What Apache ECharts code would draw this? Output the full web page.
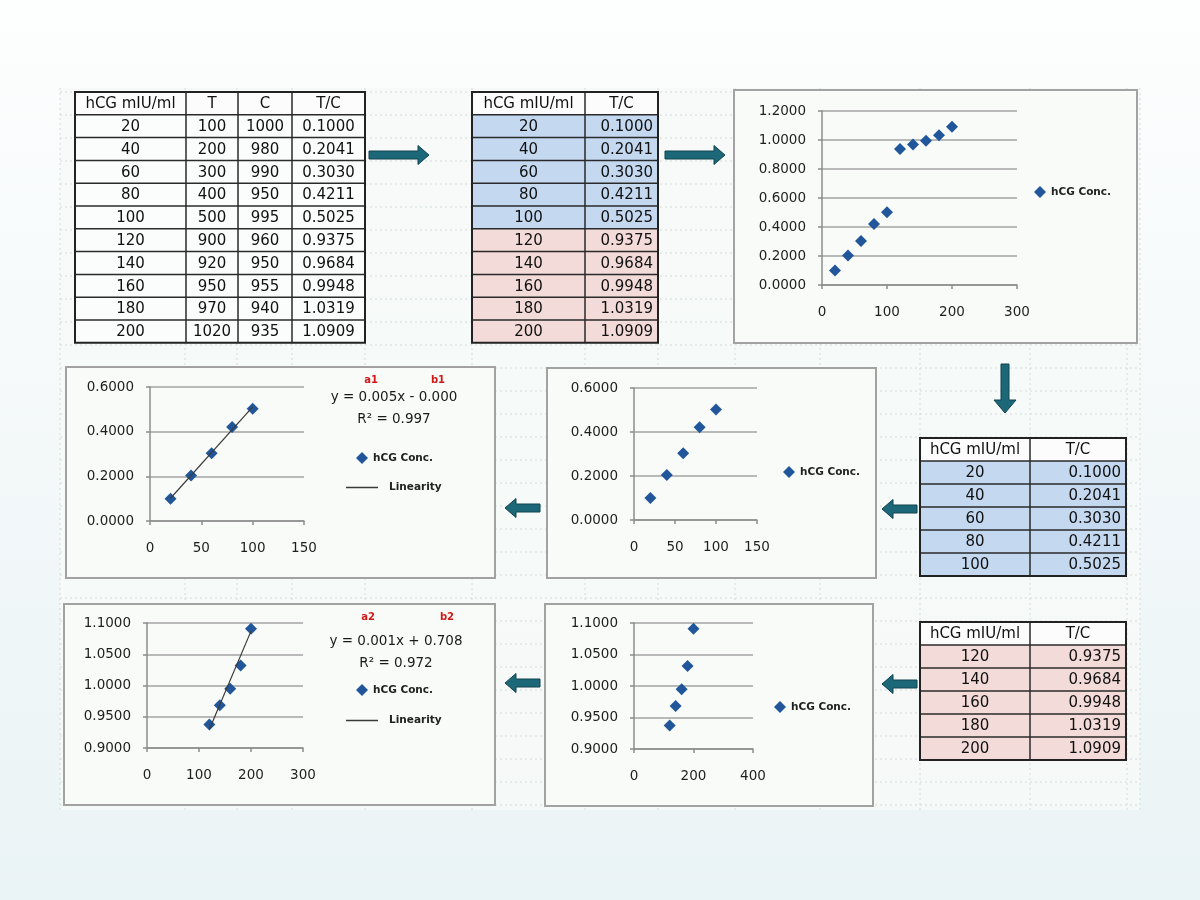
<!DOCTYPE html>
<html>
<head>
<meta charset="utf-8">
<script src="https://cdn.jsdelivr.net/npm/echarts@6/dist/echarts.min.js"></script>
<style>
html,body{margin:0;padding:0;background:#fff;}
#c{width:1200px;height:900px;}
</style>
</head>
<body>
<div id="c"></div>
<script>
// ---------- DATA ----------
const hcg   = [20, 40, 60, 80, 100, 120, 140, 160, 180, 200];
const tVals = [100, 200, 300, 400, 500, 900, 920, 950, 970, 1020];
const cVals = [1000, 980, 990, 950, 995, 960, 950, 955, 940, 935];
const ratio = [0.1000, 0.2041, 0.3030, 0.4211, 0.5025, 0.9375, 0.9684, 0.9948, 1.0319, 1.0909];
const headersFull = ['hCG mIU/ml', 'T', 'C', 'T/C'];
const headersPair = ['hCG mIU/ml', 'T/C'];
const trendLow  = [[20, 0.1018], [100, 0.5106]];
const trendHigh = [[120, 0.930], [200, 1.087]];
const eqLow  = ['y = 0.005x - 0.000', 'R\u00B2 = 0.997'];
const eqHigh = ['y = 0.001x + 0.708', 'R\u00B2 = 0.972'];
const coefLow  = ['a1', 'b1'];
const coefHigh = ['a2', 'b2'];
const seriesName = 'hCG Conc.';
const trendName = 'Linearity';
// axis ranges [min, max, interval]
const xAll = [0, 300, 100], yAll = [0, 1.2, 0.2];
const xLow = [0, 150, 50],  yLow = [0, 0.6, 0.2];
const xHighFit = [0, 300, 100], xHigh = [0, 400, 200], yHigh = [0.9, 1.1, 0.05];

// ---------- DERIVED ----------
const allPts  = hcg.map((x, i) => [x, ratio[i]]);
const lowPts  = allPts.slice(0, 5);
const highPts = allPts.slice(5);

const chart = echarts.init(document.getElementById('c'), null, {renderer: 'canvas'});
const FONT = 'DejaVu Sans';
const MARK = '#21579a';
const ARROW_FILL = '#1d6878', ARROW_STROKE = '#10434f';

const graphics = [];

// sheet background with faint cell lines
graphics.push({type: 'rect', z: -20, shape: {x: 60, y: 88, width: 1080, height: 722},
  style: {fill: 'rgba(246,250,247,0.9)'}});
for (let y = 92; y <= 810; y += 23) {
  graphics.push({type: 'line', z: -19, shape: {x1: 60, y1: y, x2: 1140, y2: y},
    style: {stroke: '#d3dcd8', lineWidth: 1, lineDash: [2, 3]}});
}
[60, 185, 237, 292, 365, 472, 585, 658, 735, 820, 920, 1030, 1127, 1140].forEach(x => {
  graphics.push({type: 'line', z: -19, shape: {x1: x, y1: 88, x2: x, y2: 810},
    style: {stroke: '#d3dcd8', lineWidth: 1, lineDash: [2, 3]}});
});

// chart panels
[[734, 90, 403, 253], [66, 367, 429, 211], [547, 368, 329, 210], [64, 604, 431, 201], [545, 604, 328, 202]]
  .forEach(p => graphics.push({type: 'rect', z: -10,
    shape: {x: p[0], y: p[1], width: p[2], height: p[3]},
    style: {fill: '#f8fbf8', stroke: '#a2a2a2', lineWidth: 2}}));

// tables
function table(x, y, widths, rowH, headers, rows, fills, aligns) {
  const totalW = widths.reduce((a, b) => a + b, 0);
  const nRows = rows.length + 1;
  for (let r = 0; r < nRows; r++) {
    graphics.push({type: 'rect', z: 1, shape: {x: x, y: y + r * rowH, width: totalW, height: rowH},
      style: {fill: r === 0 ? '#fbfcfb' : fills[r - 1]}});
  }
  for (let r = 0; r < nRows; r++) {
    const vals = r === 0 ? headers : rows[r - 1];
    let cx = x;
    vals.forEach((v, c) => {
      const al = r === 0 ? 'center' : aligns[c];
      const tx = al === 'center' ? cx + widths[c] / 2 : cx + widths[c] - 5;
      graphics.push({type: 'text', z: 3, style: {text: String(v), x: tx, y: y + r * rowH + rowH / 2 + 1,
        textAlign: al, textVerticalAlign: 'middle', fill: '#111', font: '15px "' + FONT + '"'}});
      cx += widths[c];
    });
  }
  for (let r = 1; r < nRows; r++) {
    graphics.push({type: 'line', z: 2, shape: {x1: x, y1: y + r * rowH, x2: x + totalW, y2: y + r * rowH},
      style: {stroke: '#2a2a2a', lineWidth: 1.5}});
  }
  let cx = x;
  widths.slice(0, -1).forEach(w => {
    cx += w;
    graphics.push({type: 'line', z: 2, shape: {x1: cx, y1: y, x2: cx, y2: y + nRows * rowH},
      style: {stroke: '#2a2a2a', lineWidth: 1.5}});
  });
  graphics.push({type: 'rect', z: 2, shape: {x: x, y: y, width: totalW, height: nRows * rowH},
    style: {fill: 'none', stroke: '#222', lineWidth: 2}});
}
const BLUE = '#c4d8f0', PINK = '#f2dbd8', WHITE = '#fbfdfc';
table(75, 92, [111, 52, 54, 73], 22.8, headersFull,
  hcg.map((h, i) => [h, tVals[i], cVals[i], ratio[i].toFixed(4)]),
  hcg.map(() => WHITE), ['center', 'center', 'center', 'center']);
table(472, 92, [113, 73], 22.8, headersPair,
  hcg.map((h, i) => [h, ratio[i].toFixed(4)]),
  hcg.map((h, i) => i < 5 ? BLUE : PINK), ['center', 'right']);
table(920, 438, [110, 96], 23, headersPair,
  lowPts.map(p => [p[0], p[1].toFixed(4)]), lowPts.map(() => BLUE), ['center', 'right']);
table(920, 622, [110, 96], 23, headersPair,
  highPts.map(p => [p[0], p[1].toFixed(4)]), highPts.map(() => PINK), ['center', 'right']);

// arrows
function hArrow(x0, x1, y) {
  const d = x1 > x0 ? -1 : 1, hl = 11, sh = 4, hh = 9.5;
  graphics.push({type: 'polygon', z: 4, shape: {points: [
    [x0, y - sh], [x1 + d * hl, y - sh], [x1 + d * hl, y - hh], [x1, y],
    [x1 + d * hl, y + hh], [x1 + d * hl, y + sh], [x0, y + sh]]},
    style: {fill: ARROW_FILL, stroke: ARROW_STROKE, lineWidth: 1}});
}
function vArrow(x, y0, y1) {
  const hl = 13, sh = 4, hh = 11;
  graphics.push({type: 'polygon', z: 4, shape: {points: [
    [x - sh, y0], [x - sh, y1 - hl], [x - hh, y1 - hl], [x, y1],
    [x + hh, y1 - hl], [x + sh, y1 - hl], [x + sh, y0]]},
    style: {fill: ARROW_FILL, stroke: ARROW_STROKE, lineWidth: 1}});
}
hArrow(369, 429, 155);
hArrow(665, 725, 155);
vArrow(1005, 364, 413);
hArrow(917, 882, 509);
hArrow(540, 505, 508);
hArrow(917, 882, 684);
hArrow(540, 505, 683);

// equations
function equation(cx, y, lines, coefs, ax, bx, cy) {
  graphics.push({type: 'text', z: 5, style: {text: lines[0], x: cx, y: y, textAlign: 'center',
    textVerticalAlign: 'middle', fill: '#1a1a1a', font: '13.5px "' + FONT + '"'}});
  graphics.push({type: 'text', z: 5, style: {text: lines[1], x: cx, y: y + 22, textAlign: 'center',
    textVerticalAlign: 'middle', fill: '#1a1a1a', font: '13.5px "' + FONT + '"'}});
  graphics.push({type: 'text', z: 5, style: {text: coefs[0], x: ax, y: cy, textAlign: 'center',
    textVerticalAlign: 'middle', fill: '#d01818', font: 'bold 10px "' + FONT + '"'}});
  graphics.push({type: 'text', z: 5, style: {text: coefs[1], x: bx, y: cy, textAlign: 'center',
    textVerticalAlign: 'middle', fill: '#d01818', font: 'bold 10px "' + FONT + '"'}});
}
equation(394, 397, eqLow, coefLow, 371, 438, 380);
equation(396, 641, eqHigh, coefHigh, 368, 447, 617);

// ---------- AXES ----------
const AX = '#8c8c8c';
function xAxis(gi, r) {
  return {type: 'value', gridIndex: gi, min: r[0], max: r[1], interval: r[2], z: 3,
    axisLine: {show: true, onZero: false, lineStyle: {color: AX, width: 1.5}},
    axisTick: {show: true, length: 4, lineStyle: {color: AX, width: 1.5}},
    axisLabel: {color: '#1e1e1e', fontSize: 13.5, fontFamily: FONT, margin: 20, showMaxLabel: true, showMinLabel: true},
    splitLine: {show: false}};
}
function yAxis(gi, r) {
  return {type: 'value', gridIndex: gi, min: r[0], max: r[1], interval: r[2], z: 3,
    axisLine: {show: true, onZero: false, lineStyle: {color: AX, width: 1.5}},
    axisTick: {show: true, length: 4, lineStyle: {color: AX, width: 1.5}},
    axisLabel: {color: '#1e1e1e', fontSize: 13.5, fontFamily: FONT, margin: 16,
      formatter: v => v.toFixed(4), showMaxLabel: true, showMinLabel: true},
    splitLine: {show: true, lineStyle: {color: '#a3a3a3', width: 1.5}}};
}
function scatter(gi, data) {
  return {type: 'scatter', name: seriesName, xAxisIndex: gi, yAxisIndex: gi, data: data,
    symbol: 'diamond', symbolSize: 12, z: 10, itemStyle: {color: MARK, opacity: 1}};
}
function trend(gi, data) {
  return {type: 'line', name: trendName, xAxisIndex: gi, yAxisIndex: gi, data: data,
    symbol: 'none', z: 11, itemStyle: {color: '#3a3a3a'}, lineStyle: {color: '#3a3a3a', width: 1.2}};
}
const LEG_TEXT = {fontSize: 10.5, fontWeight: 'bold', fontFamily: FONT, color: '#222'};
function legendMark(left, top) {
  return {show: true, left: left, top: top, data: [{name: seriesName, icon: 'diamond'}],
    itemWidth: 12, itemHeight: 12, selectedMode: false, padding: 0, itemStyle: {opacity: 1},
    textStyle: LEG_TEXT};
}
function legendLine(left, top) {
  return {show: true, left: left, top: top,
    data: [{name: trendName, icon: 'rect'}],
    itemWidth: 32, itemHeight: 1.5, selectedMode: false, padding: 0,
    textStyle: Object.assign({}, LEG_TEXT, {padding: [0, 0, 0, 6]})};
}

const option = {
  animation: false,
  backgroundColor: new echarts.graphic.LinearGradient(0, 0, 0, 1, [
    {offset: 0, color: '#fdfefe'}, {offset: 1, color: '#eaf3f5'}]),
  grid: [
    {left: 822, top: 111, width: 195, height: 174},
    {left: 150, top: 387, width: 154, height: 134},
    {left: 634, top: 388, width: 123, height: 132},
    {left: 147, top: 623, width: 156, height: 125},
    {left: 634, top: 623, width: 119, height: 126}
  ],
  xAxis: [xAxis(0, xAll), xAxis(1, xLow), xAxis(2, xLow), xAxis(3, xHighFit), xAxis(4, xHigh)],
  yAxis: [yAxis(0, yAll), yAxis(1, yLow), yAxis(2, yLow), yAxis(3, yHigh), yAxis(4, yHigh)],
  legend: [
    legendMark(1034, 186),
    legendMark(356, 452), legendLine(346, 482),
    legendMark(783, 466),
    legendMark(356, 684), legendLine(346, 715),
    legendMark(774, 701)
  ],
  series: [
    scatter(0, allPts),
    trend(1, trendLow), scatter(1, lowPts),
    scatter(2, lowPts),
    trend(3, trendHigh), scatter(3, highPts),
    scatter(4, highPts)
  ],
  graphic: graphics
};
chart.setOption(option);
</script>
</body>
</html>
